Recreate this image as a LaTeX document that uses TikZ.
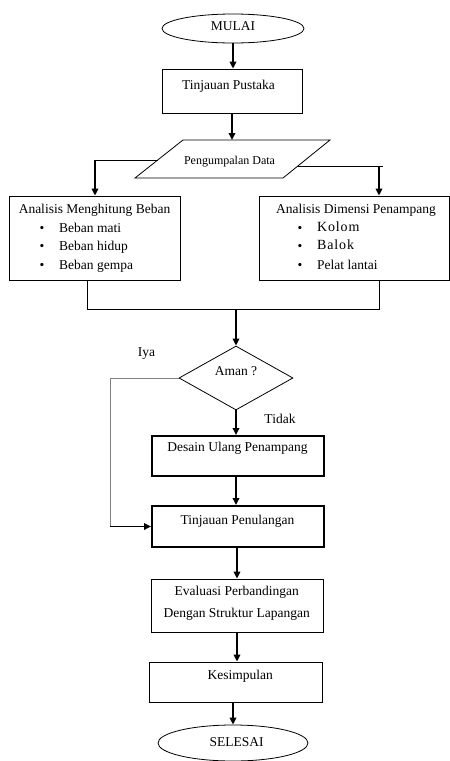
\documentclass[tikz,border=0pt]{standalone}
\usepackage{fontspec}
\setmainfont{Liberation Serif}
\usetikzlibrary{shapes.geometric,arrows.meta}
\begin{document}
\begin{tikzpicture}[x=1pt,y=-1pt,
  box/.style={draw, rectangle, line width=0.8pt, inner sep=0pt},
  boldbox/.style={draw, rectangle, line width=2pt, inner sep=0pt},
  term/.style={draw, ellipse, line width=0.8pt, inner sep=0pt},
  arr/.style={-{Triangle[length=7pt,width=6.5pt]}, line width=1.8pt},
  ln/.style={line width=0.8pt},
  gl/.style={line width=1pt, draw=gray},
  txt/.style={font=\fontsize{13.5}{16}\selectfont, anchor=mid, inner sep=0pt},
  itm/.style={font=\fontsize{13.5}{16}\selectfont, anchor=mid west, inner sep=0pt},
  big/.style={font=\fontsize{14}{16}\selectfont\addfontfeature{LetterSpace=6}, anchor=mid west, inner sep=0pt}
]
\useasboundingbox (0,0) rectangle (450,761);

% start
\node[term, minimum width=142pt, minimum height=29pt] (mulai) at (233,28.5) {};
\node[txt] (tmulai) at (233,28.5) {MULAI};

% tinjauan pustaka
\node[box, minimum width=140pt, minimum height=44pt] (tp) at (232,91) {};
\node[txt] (ttp) at (228.5,87) {Tinjauan Pustaka};

% data parallelogram
\draw[ln] (183,140) coordinate (pa) -- (330,140) coordinate (pb) -- (283,178) coordinate (pc) -- (135,178) coordinate (pd) -- cycle;
\coordinate (pdtop) at (232,140);
\node[txt, font=\fontsize{12}{14}\selectfont] (tpd) at (229.5,162) {Pengumpalan Data};

% left and right boxes
\node[box, minimum width=171pt, minimum height=84pt] (lb) at (94.5,238) {};
\node[box, minimum width=190.5pt, minimum height=84pt] (rb) at (354.25,238) {};

\node[txt] (tlb) at (94.5,211) {Analisis Menghitung Beban};
\node[txt] (b1) at (42,230) {•};
\node[txt] (b2) at (42,248) {•};
\node[txt] (b3) at (42,267) {•};
\node[itm] (i1) at (59,230) {Beban mati};
\node[itm] (i2) at (59,248) {Beban hidup};
\node[itm] (i3) at (59,267) {Beban gempa};

\node[txt] (trb) at (356,211) {Analisis Dimensi Penampang};
\node[txt] (c1) at (300,230) {•};
\node[txt] (c2) at (300,248) {•};
\node[txt] (c3) at (300,267) {•};
\node[big] (j1) at (317,229) {Kolom};
\node[big] (j2) at (317,247) {Balok};
\node[itm] (j3) at (317,267) {Pelat lantai};

% diamond
\node[draw, diamond, line width=0.8pt, minimum width=114pt, minimum height=64pt, inner sep=0pt] (dm) at (236,378) {};
\node[txt] (tdm) at (236,373) {Aman ?};
\node[txt] (tiya) at (146.5,354) {Iya};
\node[txt] (ttidak) at (280,421) {Tidak};

% redesign and reinforcement
\node[boldbox, minimum width=172pt, minimum height=40pt] (du) at (238,456) {};
\node[txt] (tdu) at (237.5,449) {Desain Ulang Penampang};
\node[boldbox, minimum width=172pt, minimum height=41pt] (tpn) at (238,526.5) {};
\node[txt] (ttpn) at (237.5,522) {Tinjauan Penulangan};

% evaluation
\node[box, minimum width=172pt, minimum height=53pt] (ev) at (237,605.5) {};
\node[txt] (tev1) at (236.7,593) {Evaluasi Perbandingan};
\node[txt] (tev2) at (236.7,615) {Dengan Struktur Lapangan};

% conclusion
\node[box, minimum width=173pt, minimum height=40pt] (ks) at (235.5,682) {};
\node[txt] (tks) at (240.3,677) {Kesimpulan};

% end
\node[term, minimum width=150pt, minimum height=36pt] (sel) at (233,743) {};
\node[txt] (tsel) at (236.7,744) {SELESAI};

% connectors
\draw[arr] (mulai.south) -- (tp.north -| mulai.south);
\draw[arr] (tp.south) -- (pdtop);

\coordinate (pl) at (157.7,160);
\coordinate (lj) at (95,160);
\draw[ln] (pl) -- (lj);
\draw[arr] (lj) -- (lj |- lb.north);

\coordinate (pr) at (297.8,166);
\coordinate (rend) at (383,166);
\coordinate (rj) at (379,166);
\draw[ln] (pr) -- (rend);
\draw[arr] (rj) -- (rj |- rb.north);

\coordinate (ml) at (87,309);
\coordinate (mr) at (379,309);
\coordinate (mj) at (236,309);
\draw[ln] (ml |- lb.south) -- (ml) -- (mr) -- (mr |- rb.south);
\draw[arr] (mj) -- (dm.north);

\draw[arr] (dm.south) -- (dm.south |- du.north);
\draw[arr] (du.south -| dm.south) -- (tpn.north -| dm.south);

\coordinate (iyc) at (110,526.5);
\draw[gl] (dm.west) -| (iyc);
\draw[arr] (iyc) -- (tpn.west);

\draw[arr] (tpn.south -| ev.north) -- (ev.north);
\draw[arr] (ev.south) -- (ks.north -| ev.south);
\coordinate (kj) at (233,702);
\draw[arr] (kj) -- (sel.north);
\end{tikzpicture}
\end{document}
